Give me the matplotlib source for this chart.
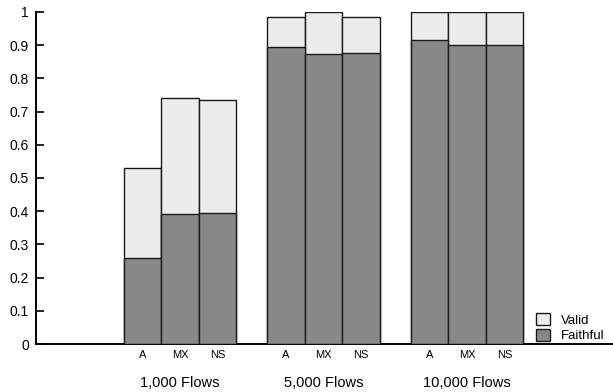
import matplotlib
matplotlib.use("Agg")
import matplotlib.pyplot as plt
import numpy as np

plt.rcParams['font.family'] = ['Liberation Sans', 'DejaVu Sans']

groups = ["1,000 Flows", "5,000 Flows", "10,000 Flows"]
methods = ["A", "MX", "NS"]
valid = [[0.530, 0.741, 0.736],
         [0.986, 1.000, 0.986],
         [1.000, 1.000, 1.000]]
faithful = [[0.258, 0.392, 0.394],
            [0.895, 0.872, 0.876],
            [0.917, 0.901, 0.901]]
yticks = [0, 0.1, 0.2, 0.3, 0.4, 0.5, 0.6, 0.7, 0.8, 0.9, 1]
ytick_labels = ["0", "0.1", "0.2", "0.3", "0.4", "0.5", "0.6", "0.7", "0.8", "0.9", "1"]

fig = plt.figure(figsize=(6.13, 3.92), dpi=100)
ax = fig.add_axes([36/613, 1-344/392, 1-36/613, (344-12)/392])

group_step = 3.83
xs, labels = [], []
for gi, g in enumerate(groups):
    for mi, m in enumerate(methods):
        x = gi*group_step + mi
        xs.append(x)
        labels.append(m)
        ax.bar(x, valid[gi][mi], width=1.0, color="#ececec", edgecolor="#1a1a1a", linewidth=1.0,
               label="Valid" if (gi == 0 and mi == 0) else None, zorder=2)
        ax.bar(x, faithful[gi][mi], width=1.0, color="#888888", edgecolor="#1a1a1a", linewidth=1.0,
               label="Faithful" if (gi == 0 and mi == 0) else None, zorder=3)

ax.set_xlim(-2.84, 12.55)
ax.set_ylim(0, 1)
ax.set_xticks(xs)
ax.set_xticklabels(labels, fontsize=8)
ax.tick_params(axis='x', length=0, pad=4)
ax.set_yticks(yticks)
ax.set_yticklabels(ytick_labels, fontsize=10)
ax.tick_params(axis='y', direction='in', length=6, width=1.2, pad=5)

for gi, g in enumerate(groups):
    ax.text(gi*group_step + 1, -0.118, g, ha='center', va='center', fontsize=10.5,
            transform=ax.transData)

for s in ['top', 'right']:
    ax.spines[s].set_visible(False)
ax.spines['left'].set_linewidth(1.4)
ax.spines['bottom'].set_linewidth(1.4)

ax.legend(loc='lower right', bbox_to_anchor=(0.993, -0.009), frameon=False, fontsize=9.5,
          handlelength=1.05, handleheight=1.05,
          borderaxespad=0.15, handletextpad=0.8, labelspacing=0.15, borderpad=0.2)

fig.savefig("out.png", dpi=100)
